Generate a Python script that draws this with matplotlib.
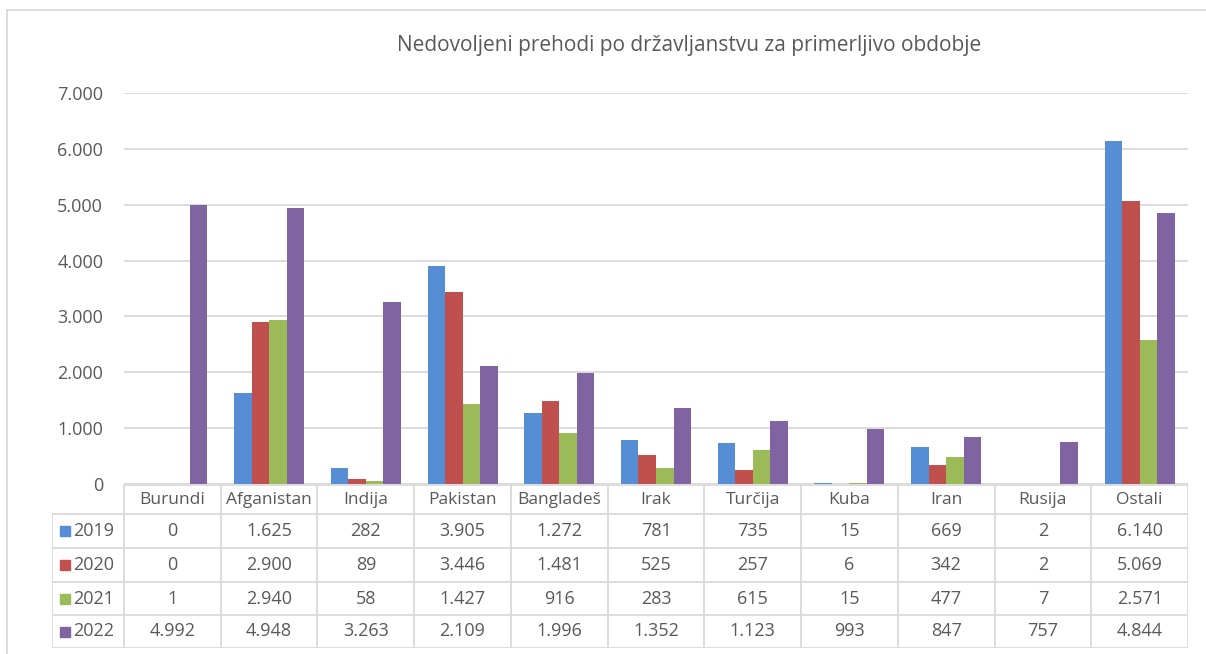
import matplotlib
matplotlib.use("Agg")
import matplotlib.pyplot as plt
from matplotlib.patches import Rectangle
from matplotlib.lines import Line2D

categories = ["Burundi", "Afganistan", "Indija", "Pakistan", "Bangladeš", "Irak",
              "Turčija", "Kuba", "Iran", "Rusija", "Ostali"]
years = ["2019", "2020", "2021", "2022"]
v2019 = [0, 1625, 282, 3905, 1272, 781, 735, 15, 669, 2, 6140]
v2020 = [0, 2900, 89, 3446, 1481, 525, 257, 6, 342, 2, 5069]
v2021 = [1, 2940, 58, 1427, 916, 283, 615, 15, 477, 7, 2571]
v2022 = [4992, 4948, 3263, 2109, 1996, 1352, 1123, 993, 847, 757, 4844]
series = [v2019, v2020, v2021, v2022]
colors = ["#558ED5", "#C0504D", "#9BBB59", "#8064A2"]
yticks = [0, 1000, 2000, 3000, 4000, 5000, 6000, 7000]
title = "Nedovoljeni prehodi po državljanstvu za primerljivo obdobje"

FONT = "Open Sans"
TXT = "#595959"
GRID = "#D9D9D9"
NUM_FS = 13
LAB_FS = 12.5
W, H = 1206, 654
fig = plt.figure(figsize=(W / 100, H / 100), dpi=100)

def fx(px):
    return px / W

def fy(py):
    return 1 - py / H

def fmt(v):
    return f"{v:,}".replace(",", ".")

# outer chart border
fig.patches.append(Rectangle((fx(7), fy(700)), fx(1300), fy(10) - fy(700),
                             transform=fig.transFigure, fill=False,
                             edgecolor=GRID, linewidth=1.3))

# main plot area
L, R, T, B = 124, 1188, 93, 484
ax = fig.add_axes([fx(L), fy(B), fx(R) - fx(L), fy(T) - fy(B)])
n = len(categories)
ax.set_xlim(-0.5, n - 0.5)
ax.set_ylim(0, 7000)
bw = 0.181
for k, (vals, c) in enumerate(zip(series, colors)):
    xs = [i + (k - 1.5) * bw for i in range(n)]
    ax.bar(xs, vals, width=bw, color=c, edgecolor="none", zorder=3)
ax.set_yticks(yticks)
ax.set_yticklabels([fmt(t) for t in yticks], fontsize=NUM_FS, color=TXT, family=FONT)
ax.tick_params(axis="y", length=0, pad=15)
ax.set_xticks([])
ax.grid(axis="y", color=GRID, linewidth=1.3, zorder=0)
for s in ax.spines.values():
    s.set_visible(False)
ax.set_axisbelow(True)

fig.text(fx(689), fy(46), title, ha="center", va="center",
         fontsize=15, color=TXT, family=FONT)

# data table
TL = 52
cw = (R - L) / n
lab_w = (L - TL) / cw
tax = fig.add_axes([fx(TL), fy(648), fx(R) - fx(TL), fy(484) - fy(648)])
tax.set_xlim(-0.5 - lab_w, n - 0.5)
tax.set_ylim(648, 484)
tax.axis("off")
row_edges = [485, 514, 548, 582, 615, 648]
lw = 1.3
tax.add_line(Line2D([-0.5, n - 0.5], [row_edges[0]] * 2, color=GRID, lw=lw))
for y in row_edges[1:]:
    tax.add_line(Line2D([-0.5 - lab_w, n - 0.5], [y, y], color=GRID, lw=lw))
tax.add_line(Line2D([-0.5 - lab_w] * 2, [row_edges[1], row_edges[-1]], color=GRID, lw=lw))
for i in range(n + 1):
    tax.add_line(Line2D([i - 0.5] * 2, [row_edges[0], row_edges[-1]], color=GRID, lw=lw))
hy = (row_edges[0] + row_edges[1]) / 2
for i, c in enumerate(categories):
    tax.text(i, hy, c, ha="center", va="center", fontsize=LAB_FS, color=TXT, family=FONT)
for r, (yr, vals, c) in enumerate(zip(years, series, colors)):
    cy = (row_edges[r + 1] + row_edges[r + 2]) / 2
    x0 = -0.5 - lab_w + 8 / cw
    tax.add_patch(Rectangle((x0, cy - 5), 10 / cw, 10, color=c, clip_on=False))
    tax.text(x0 + 13 / cw, cy, yr, ha="left", va="center", fontsize=NUM_FS,
             color=TXT, family=FONT)
    for i, v in enumerate(vals):
        tax.text(i, cy, fmt(v), ha="center", va="center",
                 fontsize=NUM_FS, color=TXT, family=FONT)

fig.savefig("out.png", dpi=100)
